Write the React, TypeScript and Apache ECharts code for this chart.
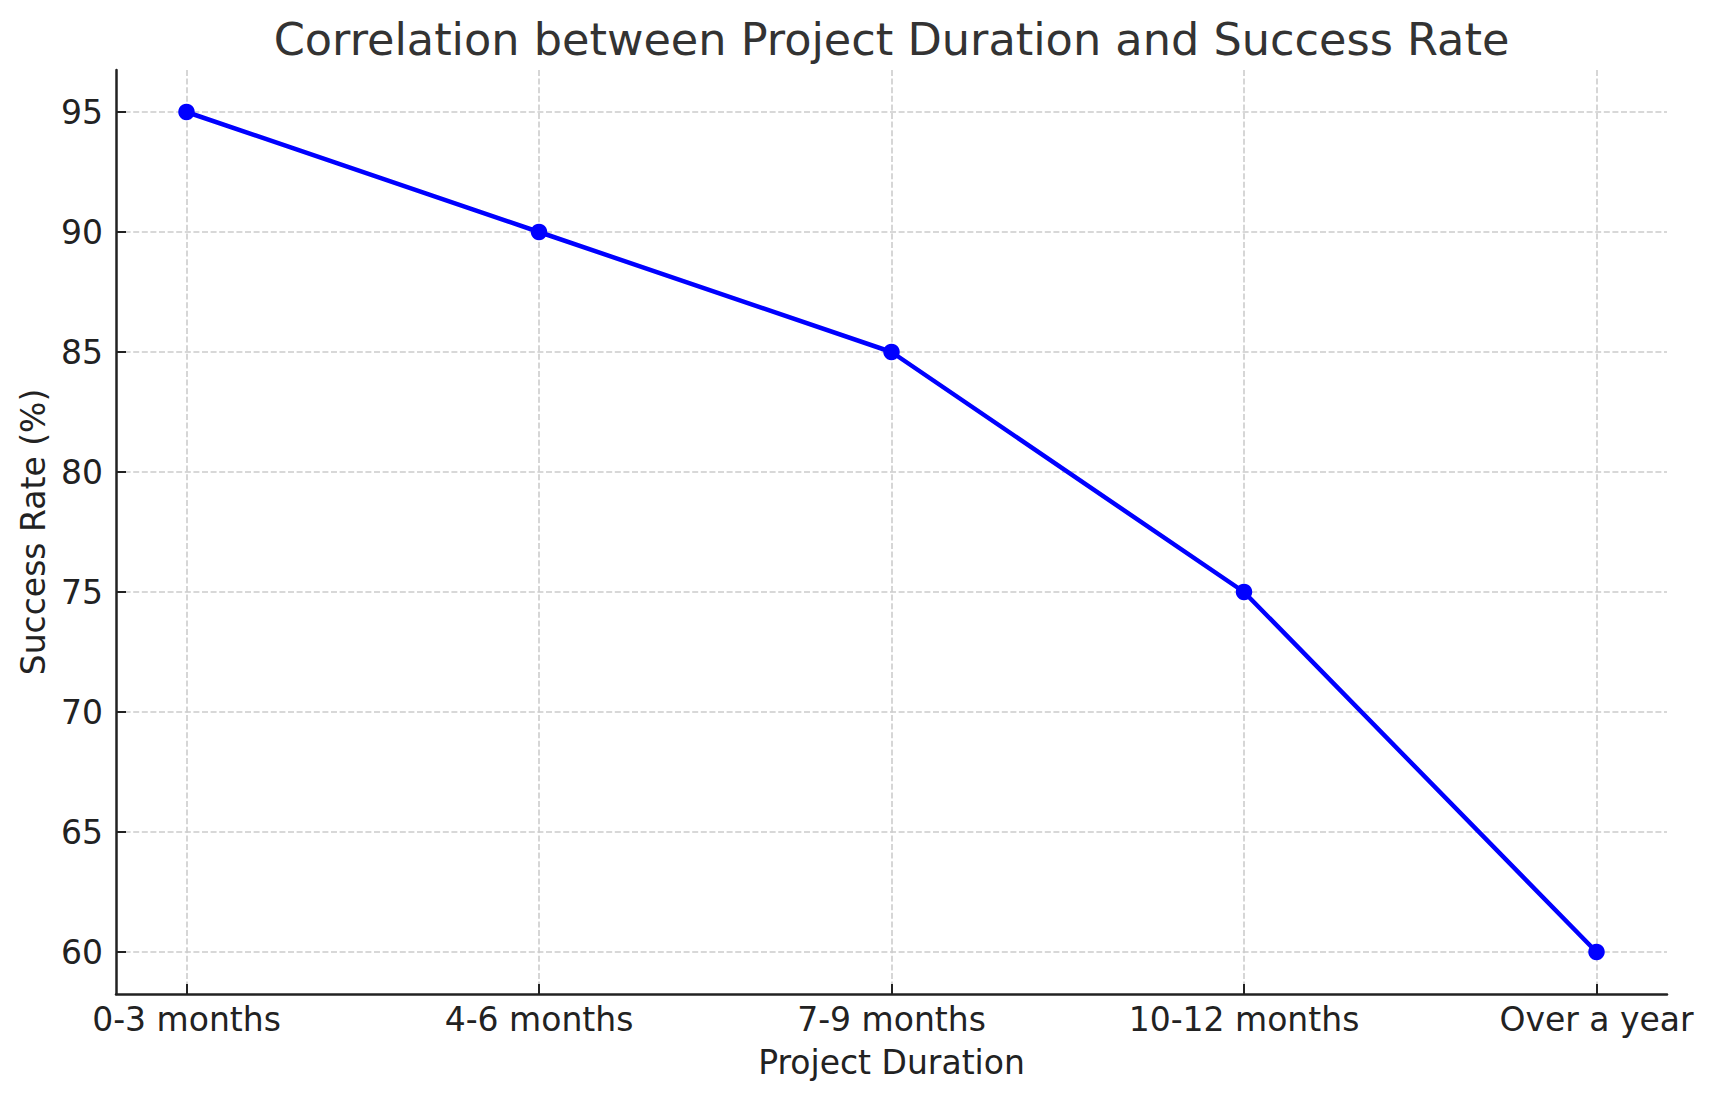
import React, { useEffect, useRef } from "react";
import * as echarts from "echarts";

const categories = ["0-3 months", "4-6 months", "7-9 months", "10-12 months", "Over a year"];
const successRates = [95, 90, 85, 75, 60];
const yTicks = [60, 65, 70, 75, 80, 85, 90, 95];
const xTicks = [0, 1, 2, 3, 4];

const FONT = "DejaVu Sans";
const AXIS_COLOR = "#222222";
const GRID_STYLE = { color: "#cccccc", width: 1.6, type: [6, 2.6] as number[] };

export default function App() {
  const ref = useRef<HTMLDivElement>(null);

  useEffect(() => {
    if (!ref.current) return;
    const chart = echarts.init(ref.current, null, { renderer: "svg" });
    chart.setOption({
      animation: false,
      backgroundColor: "#ffffff",
      textStyle: { fontFamily: FONT },
      graphic: [
        {
          type: "text",
          x: 891.5,
          y: 39.5,
          style: {
            text: "Correlation between Project Duration and Success Rate",
            fontSize: 44.6,
            fontFamily: FONT,
            fill: "#333333",
            align: "center",
            verticalAlign: "middle",
          },
        },
      ],
      grid: { left: 116, right: 47, top: 70, bottom: 107, containLabel: false },
      xAxis: {
        type: "value",
        min: -0.2,
        max: 4.2,
        name: "Project Duration",
        nameLocation: "middle",
        nameGap: 52,
        nameMoveOverlap: false,
        nameTextStyle: { fontSize: 33, color: AXIS_COLOR, fontFamily: FONT },
        axisLine: { show: true, onZero: false, lineStyle: { color: AXIS_COLOR, width: 2.5 } },
        axisTick: { show: true, inside: true, length: 10, customValues: xTicks, lineStyle: { color: AXIS_COLOR, width: 2 } },
        axisLabel: {
          show: true,
          customValues: xTicks,
          margin: 9,
          fontSize: 33,
          color: AXIS_COLOR,
          fontFamily: FONT,
          formatter: (v: number) => categories[Math.round(v)] ?? "",
        },
        splitLine: { show: true, lineStyle: GRID_STYLE },
      },
      yAxis: {
        type: "value",
        min: 58.25,
        max: 96.75,
        name: "Success Rate (%)",
        nameLocation: "middle",
        nameGap: 66,
        nameMoveOverlap: false,
        nameTextStyle: { fontSize: 33, color: AXIS_COLOR, fontFamily: FONT },
        axisLine: { show: true, onZero: false, lineStyle: { color: AXIS_COLOR, width: 2.5 } },
        axisTick: { show: true, inside: true, length: 10, customValues: yTicks, lineStyle: { color: AXIS_COLOR, width: 2 } },
        axisLabel: {
          show: true,
          customValues: yTicks,
          margin: 13,
          fontSize: 33,
          color: AXIS_COLOR,
          fontFamily: FONT,
        },
        splitLine: { show: true, lineStyle: GRID_STYLE },
      },
      series: [
        {
          type: "line",
          data: successRates.map((v, i) => [xTicks[i], v]),
          lineStyle: { color: "#0000ff", width: 4.5 },
          itemStyle: { color: "#0000ff" },
          symbol: "circle",
          symbolSize: 16.5,
          showSymbol: true,
        },
      ],
    });
    return () => chart.dispose();
  }, []);

  return (
    <div
      ref={ref}
      style={{ position: "absolute", left: 0, top: 0, width: 1714, height: 1101 }}
    />
  );
}
